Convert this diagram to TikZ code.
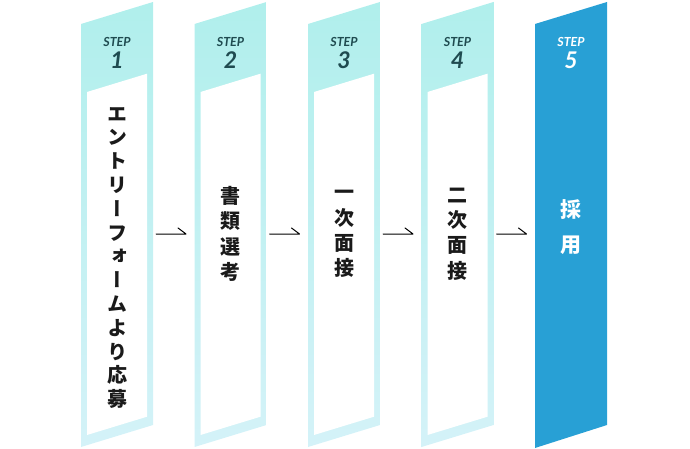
\documentclass[tikz,border=0pt]{standalone}
\usepackage{fontspec}
\usepackage{graphicx}
\newfontfamily\cjk{Noto Sans CJK JP}[RawFeature=+vert]
\newfontfamily\stepfont{Lato}
\definecolor{cyantop}{HTML}{B0EFEC}
\definecolor{cyanbot}{HTML}{D4F2F8}
\definecolor{stepdark}{HTML}{1F4B50}
\definecolor{stepblue}{HTML}{28A0D5}
\definecolor{txt}{HTML}{1A1A1A}
\tikzset{
  steplbl/.style={font=\stepfont\bfseries\itshape\fontsize{12.5}{12.5}\selectfont, text=stepdark, inner sep=0pt},
  stepnum/.style={font=\stepfont\bfseries\itshape\fontsize{23}{23}\selectfont, text=stepdark, inner sep=0pt},
  vtext/.style={font=\cjk\bfseries\fontsize{20}{23.8}\selectfont, text=txt, align=center, inner sep=0pt},
  vtextfour/.style={font=\cjk\bfseries\fontsize{20}{25.3}\selectfont, text=txt, align=center, inner sep=0pt},
  flowarrow/.style={draw=black, line width=1pt, line cap=round, line join=round}
}
\begin{document}
\begin{tikzpicture}[x=1pt,y=-1pt]
\useasboundingbox (0,0) rectangle (690,449);
% steps 1-4
\foreach \i in {0,1,2,3}{
  \pgfmathsetmacro{\L}{81+113.5*\i}
  \shade[top color=cyantop, bottom color=cyanbot]
    (\L,24) -- (\L+72,2) -- (\L+72,425) -- (\L,447) -- cycle;
  \fill[white] (\L+6,92) -- (\L+66,73.7) -- (\L+66,416.7) -- (\L+6,435) -- cycle;
}
% step 5
\fill[stepblue] (535,24) -- (607,2) -- (607,425) -- (535,448) -- cycle;

% labels
\node[steplbl] (s1) at (117,42) {STEP};
\node[stepnum] (n1) at (117,60) {1};
\node[steplbl] (s2) at (230.5,42) {STEP};
\node[stepnum] (n2) at (230.5,60) {2};
\node[steplbl] (s3) at (344,42) {STEP};
\node[stepnum] (n3) at (344,60) {3};
\node[steplbl] (s4) at (457.5,42) {STEP};
\node[stepnum] (n4) at (457.5,60) {4};
\node[steplbl, text=white] (s5) at (571,42) {STEP};
\node[stepnum, text=white] (n5) at (571,60) {5};

% vertical texts
\node[vtext] (t1) at (117,258) {エ\\ン\\ト\\リ\\ー\\フ\\ォ\\ー\\ム\\よ\\り\\応\\募};
\node[vtextfour] (t2) at (230.5,234) {書\\類\\選\\考};
\node[vtextfour] (t3) at (344,234) {一\\次\\面\\接};
\node[vtextfour] (t4) at (457.5,234) {二\\次\\面\\接};
\node[font=\cjk\bfseries\fontsize{21}{35}\selectfont, text=white, align=center, inner sep=0pt] (t5) at (571,227) {採\\用};

% arrows
\foreach \i in {0,1,2,3}{
  \pgfmathsetmacro{\L}{81+113.5*\i}
  \coordinate (a\i) at (\L+75,234);
  \coordinate (b\i) at (\L+105,234);
  \coordinate (c\i) at (\L+97,228);
  \draw[flowarrow] (a\i) -- (b\i) -- (c\i);
}
\end{tikzpicture}
\end{document}
